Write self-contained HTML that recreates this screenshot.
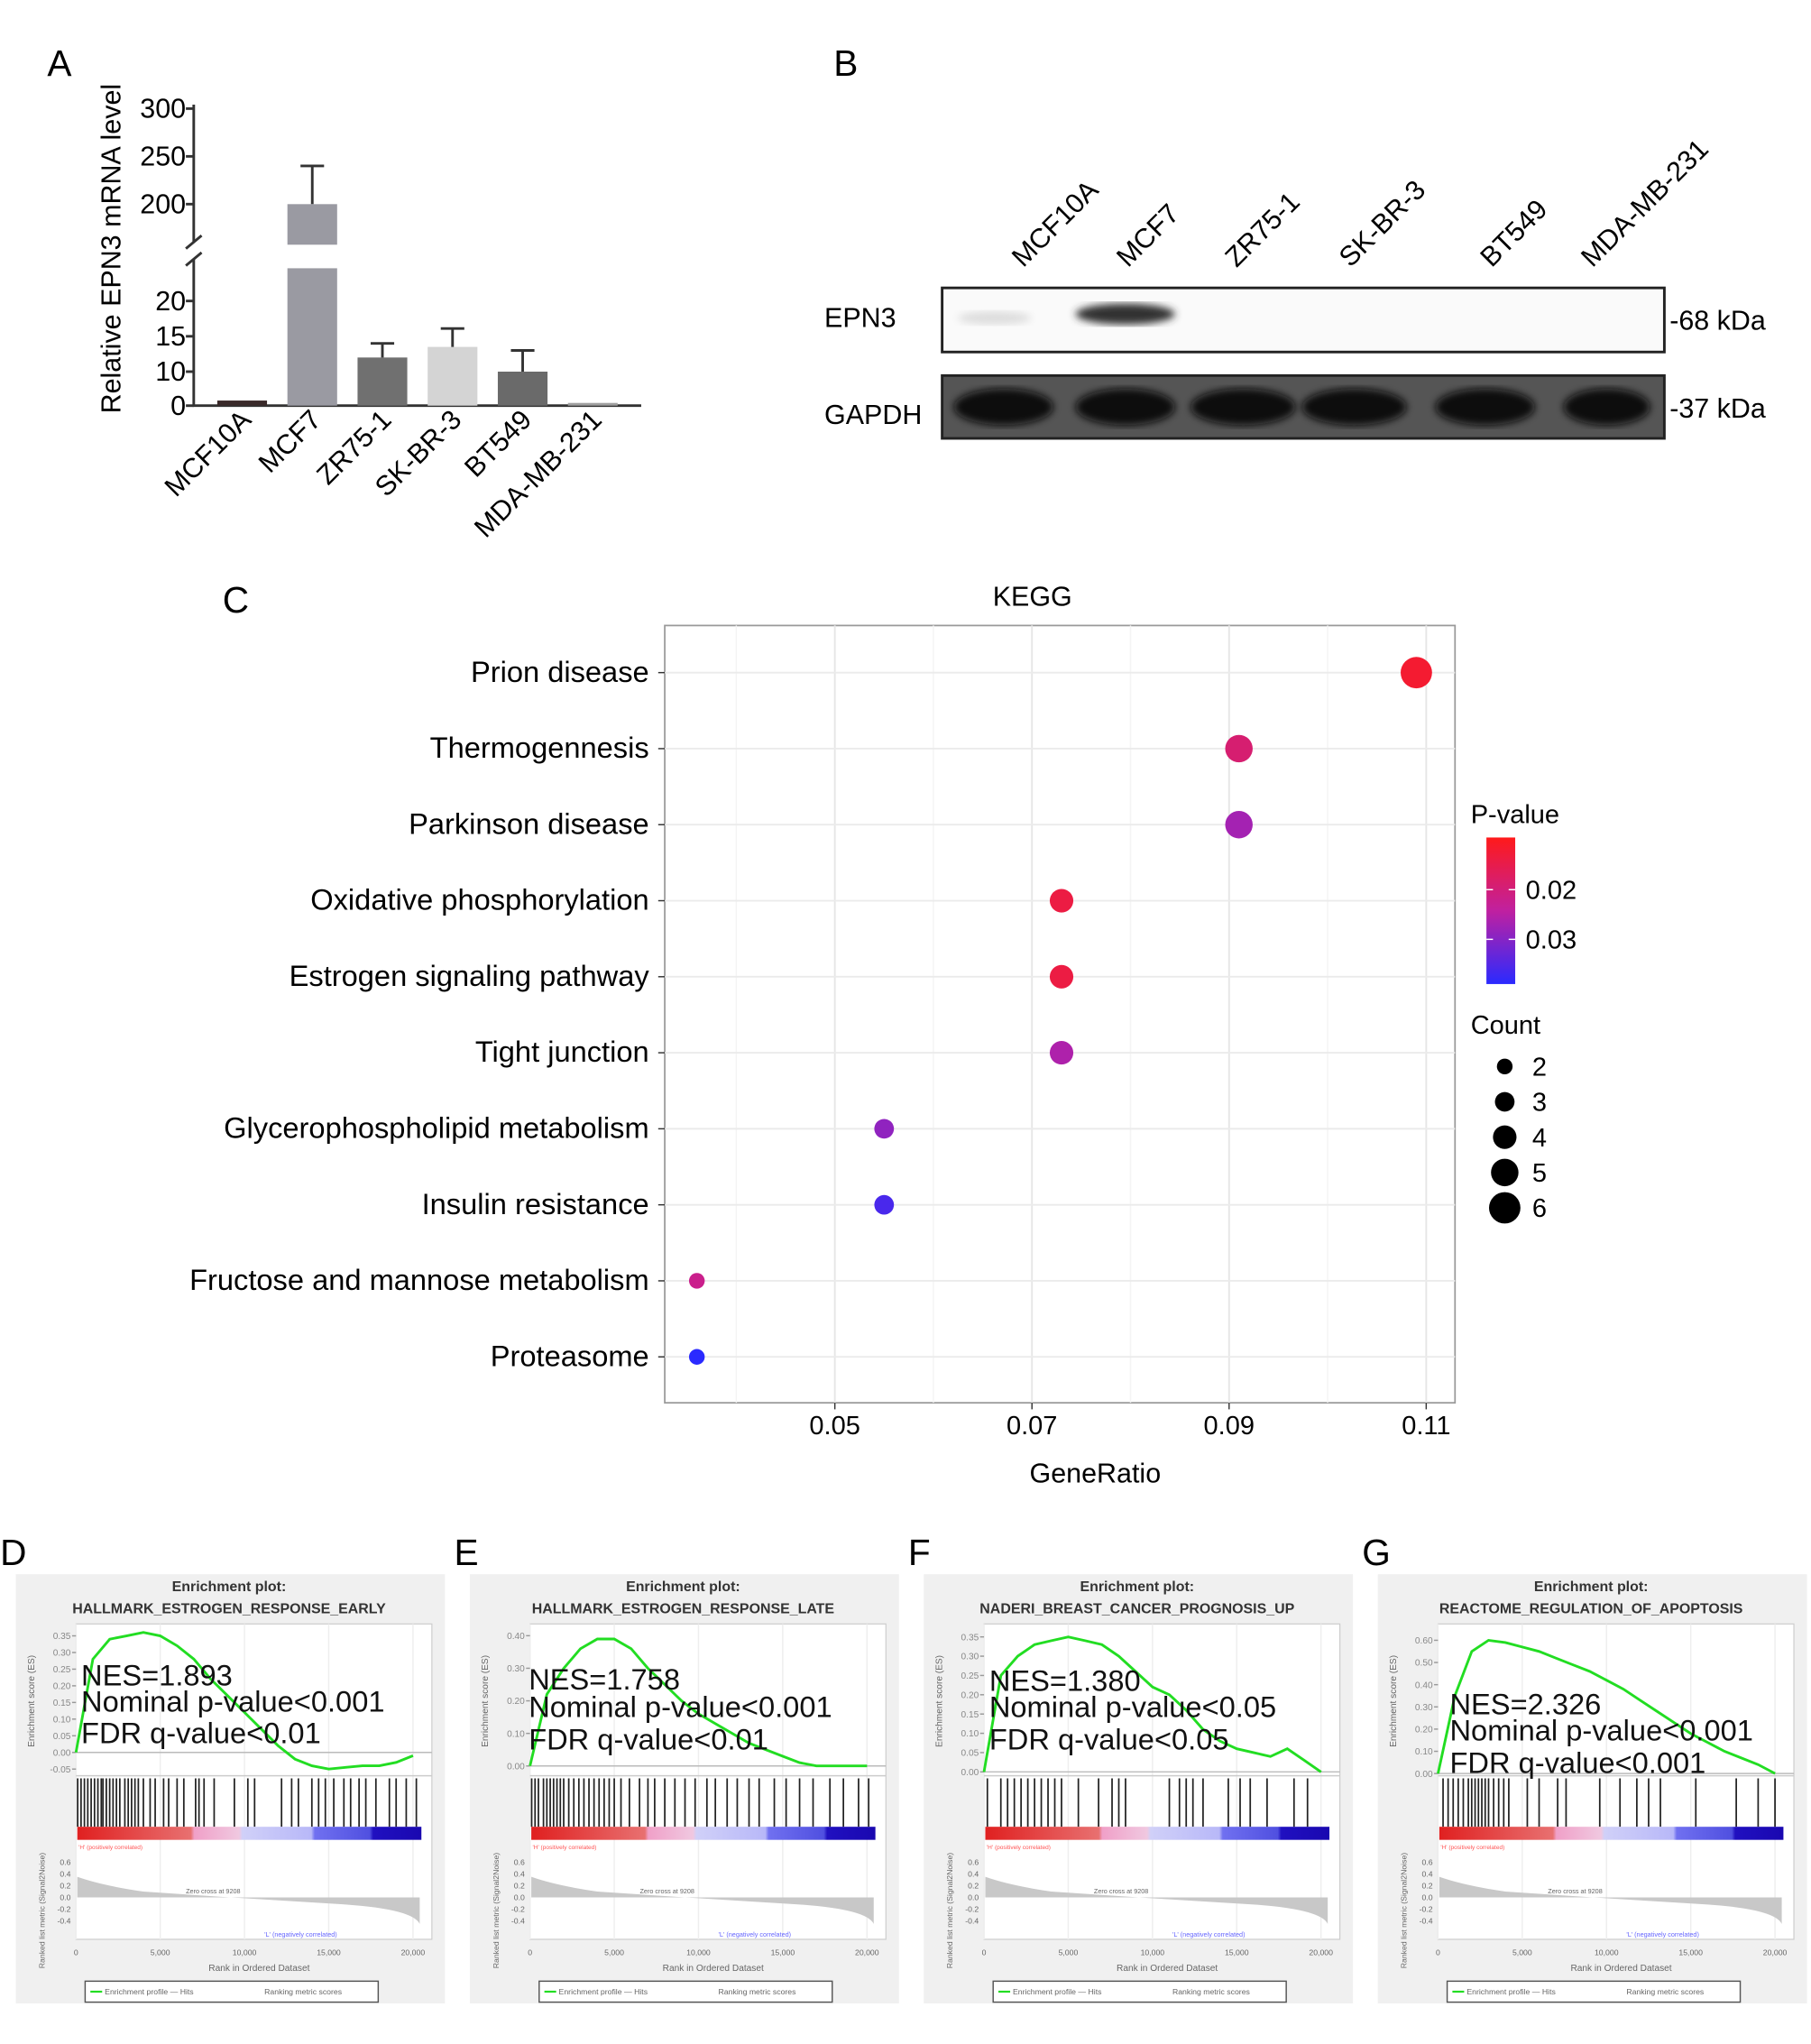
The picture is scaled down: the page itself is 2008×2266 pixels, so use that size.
<!DOCTYPE html>
<html><head><meta charset="utf-8"><style>
html,body{margin:0;padding:0;background:#fff;}
svg{display:block;font-family:"Liberation Sans",Arial,sans-serif;}
</style></head><body>
<svg id="fig" width="2008" height="2266" viewBox="0 0 1384 1562" xmlns="http://www.w3.org/2000/svg">
<defs>
<linearGradient id="pgrad" x1="0" y1="0" x2="0" y2="1">
<stop offset="0" stop-color="#ff1a1a"/><stop offset="0.5" stop-color="#c020a0"/><stop offset="1" stop-color="#2a2aff"/></linearGradient>
<linearGradient id="rankband" x1="0" y1="0" x2="1" y2="0">
<stop offset="0" stop-color="#e02020"/><stop offset="0.33" stop-color="#e87070"/><stop offset="0.34" stop-color="#f0a0c8"/><stop offset="0.47" stop-color="#f0c8e0"/><stop offset="0.48" stop-color="#d0d0f8"/><stop offset="0.68" stop-color="#b8b8f8"/><stop offset="0.69" stop-color="#7070f0"/><stop offset="0.85" stop-color="#5050e0"/><stop offset="0.86" stop-color="#2010c0"/><stop offset="1" stop-color="#1a08b0"/></linearGradient>
<filter id="blur2"><feGaussianBlur stdDeviation="3"/></filter>
</defs>
<g id="panelA"></g><g id="panelB"></g><g id="panelC"></g><g id="panelG"></g>
</svg>
<script>
const NS="http://www.w3.org/2000/svg";
function mk(parent,tag,attrs,text){const e=document.createElementNS(NS,tag);for(const k in attrs)e.setAttribute(k,attrs[k]);if(text!==undefined)e.textContent=text;parent.appendChild(e);return e;}

// ---------- Panel A data ----------
const aCategories=["MCF10A","MCF7","ZR75-1","SK-BR-3","BT549","MDA-MB-231"];
const aValues=[1.5,200,12,13.5,10,0.8];
const aErrors=[0,40,2,2.6,3,0.3];
const aColors=["#3a2a2a","#9a9aa2","#707070","#d4d4d4","#6a6a6a","#a0a0a0"];
const aLowTicks=[0,10,15,20];
const aHighTicks=[200,250,300];

// ---------- Panel C data ----------
const kCategories=["Prion disease","Thermogennesis","Parkinson disease","Oxidative phosphorylation","Estrogen signaling pathway","Tight junction","Glycerophospholipid metabolism","Insulin resistance","Fructose and mannose metabolism","Proteasome"];
const kRatio=[0.109,0.091,0.091,0.073,0.073,0.073,0.055,0.055,0.036,0.036];
const kCount=[6,5,5,4,4,4,3,3,2,2];
const kPvalue=[0.012,0.019,0.027,0.014,0.014,0.026,0.029,0.036,0.022,0.039];
const kXTicks=[0.05,0.07,0.09,0.11];
const kLegendCounts=[2,3,4,5,6];
const kLegendP=[0.02,0.03];

// ---------- GSEA data ----------
const gLetters=["D","E","F","G"];
const gTitles=["HALLMARK_ESTROGEN_RESPONSE_EARLY","HALLMARK_ESTROGEN_RESPONSE_LATE","NADERI_BREAST_CANCER_PROGNOSIS_UP","REACTOME_REGULATION_OF_APOPTOSIS"];
const gNES=["NES=1.893","NES=1.758","NES=1.380","NES=2.326"];
const gP=["Nominal p-value<0.001","Nominal p-value<0.001","Nominal p-value<0.05","Nominal p-value<0.001"];
const gFDR=["FDR q-value<0.01","FDR q-value<0.01","FDR q-value<0.05","FDR q-value<0.001"];
const esD=[0,0.28,0.34,0.35,0.36,0.35,0.32,0.28,0.22,0.17,0.12,0.07,0.02,-0.02,-0.04,-0.05,-0.045,-0.04,-0.04,-0.03,-0.01];
const esE=[0,0.22,0.30,0.36,0.39,0.39,0.36,0.30,0.25,0.20,0.16,0.13,0.10,0.07,0.05,0.03,0.01,0.0,0.0,0.0,0.0];
const esF=[0,0.25,0.30,0.33,0.34,0.35,0.34,0.33,0.30,0.26,0.22,0.20,0.16,0.11,0.08,0.06,0.05,0.04,0.06,0.03,0.0];
const esG=[0,0.35,0.55,0.60,0.59,0.57,0.55,0.52,0.49,0.46,0.42,0.38,0.33,0.28,0.23,0.18,0.14,0.10,0.07,0.04,0.0];
const esTicksD=[-0.05,0,0.05,0.1,0.15,0.2,0.25,0.3,0.35];
const esTicksE=[0,0.1,0.2,0.3,0.4];
const esTicksF=[0,0.05,0.1,0.15,0.2,0.25,0.3,0.35];
const esTicksG=[0,0.1,0.2,0.3,0.4,0.5,0.6];
const hitsD=[0.1,0.3,0.5,0.7,0.9,1.1,1.3,1.5,1.6,1.8,2.0,2.2,2.4,2.6,2.9,3.1,3.3,3.5,3.7,4.0,4.4,4.7,5.2,5.5,6.0,6.4,7.1,7.3,7.6,8.2,9.4,10.2,10.6,12.2,12.8,13.2,14.0,14.4,14.8,15.3,15.9,16.3,16.8,17.2,17.8,18.6,19.0,19.6,20.2];
const hitsE=[0.1,0.3,0.5,0.8,1.0,1.2,1.4,1.6,1.8,2.0,2.3,2.6,2.9,3.2,3.5,3.8,4.1,4.4,4.7,5.0,5.4,5.9,6.5,7.0,7.4,8.0,8.6,9.2,9.8,10.5,11.0,11.7,12.3,13.0,13.6,14.5,15.2,16.0,16.8,17.8,18.6,19.5,20.1];
const hitsF=[0.2,1.0,1.4,1.8,2.2,2.6,3.0,3.4,3.8,4.2,4.6,5.6,6.8,7.6,8.0,8.4,11.0,11.6,12.0,12.4,13.0,14.5,15.2,15.8,16.8,18.4,19.2];
const hitsG=[0.3,0.6,0.9,1.2,1.5,1.8,2.0,2.2,2.4,2.6,2.8,3.0,3.3,3.6,3.9,4.2,5.3,6.0,7.1,7.6,9.6,10.8,11.8,12.5,13.2,15.3,17.7,19.0,20.0];

// ================= Panel A =================
(function(){
const g=document.getElementById('panelA');
const lbl=mk(g,'text',{x:36,y:58,'font-size':28},'A');

const axX=148, y0=310;
const yLow=v=>v<=10?y0-v*2.6:284-(v-10)*5.4;
const yHigh=v=>156-(v-200)*0.73;
const xs=i=>185+i*53.6;
const ax=mk(g,'path',{d:`M${axX},80 L${axX},185 M${axX},198 L${axX},${y0} L490,${y0}`,stroke:'#333','stroke-width':2,fill:'none'});

mk(g,'path',{d:`M${axX-6},190 L${axX+6},180 M${axX-6},203 L${axX+6},193`,stroke:'#333','stroke-width':2});
aLowTicks.forEach(t=>{mk(g,'line',{x1:axX-6,x2:axX,y1:yLow(t),y2:yLow(t),stroke:'#333','stroke-width':2});
 const tx=mk(g,'text',{x:axX-6,y:yLow(t)+7,'font-size':21,'text-anchor':'end'},t);});
aHighTicks.forEach(t=>{mk(g,'line',{x1:axX-6,x2:axX,y1:yHigh(t),y2:yHigh(t),stroke:'#333','stroke-width':2});
 const tx=mk(g,'text',{x:axX-6,y:yHigh(t)+7,'font-size':21,'text-anchor':'end'},t);});
const yt=mk(g,'text',{x:92,y:190,'font-size':21,'text-anchor':'middle',transform:'rotate(-90 92 190)'},'Relative EPN3 mRNA level');

aCategories.forEach((c,i)=>{
 const v=aValues[i], e=aErrors[i], cx=xs(i), w=38;
 if(v>20){
  const b1=mk(g,'rect',{x:cx-w/2,y:205,width:w,height:y0-205,fill:aColors[i]});
  
  mk(g,'rect',{x:cx-w/2,y:yHigh(v),width:w,height:187-yHigh(v),fill:aColors[i]});
  const top=yHigh(v+e);
  mk(g,'path',{d:`M${cx},${yHigh(v)} L${cx},${top} M${cx-9},${top} L${cx+9},${top}`,stroke:'#333','stroke-width':2});
 } else {
  const b=mk(g,'rect',{x:cx-w/2,y:yLow(v),width:w,height:y0-yLow(v),fill:aColors[i]});
  
  if(e>0.5){const top=yLow(v+e);mk(g,'path',{d:`M${cx},${yLow(v)} L${cx},${top} M${cx-9},${top} L${cx+9},${top}`,stroke:'#333','stroke-width':2});}
 }
 const t=mk(g,'text',{x:cx+8,y:322,'font-size':21,'text-anchor':'end',transform:`rotate(-45 ${cx+8} 322)`},c);
 
});
})();

// ================= Panel B =================
(function(){
const g=document.getElementById('panelB');
const l=mk(g,'text',{x:637,y:58,'font-size':28},'B');
const lanes=["MCF10A","MCF7","ZR75-1","SK-BR-3","BT549","MDA-MB-231"];
const lx=[782,862,945,1032,1140,1217];
lanes.forEach((n,i)=>{const t=mk(g,'text',{x:lx[i],y:205,'font-size':21,transform:`rotate(-45 ${lx[i]} 205)`},n);});
const b1=mk(g,'rect',{x:720,y:220,width:552,height:49,fill:'#fafafa',stroke:'#222','stroke-width':2});

mk(g,'ellipse',{cx:860,cy:240,rx:38,ry:8,fill:'#333',filter:'url(#blur2)'});
mk(g,'ellipse',{cx:760,cy:243,rx:28,ry:5,fill:'#ddd',filter:'url(#blur2)'});
const b2=mk(g,'rect',{x:720,y:287,width:552,height:48,fill:'#555',stroke:'#222','stroke-width':2});

const gx=[767,860,950,1035,1135,1228],gr=[38,38,40,40,38,33];
gx.forEach((x,i)=>mk(g,'ellipse',{cx:x,cy:311,rx:gr[i],ry:14,fill:'#080808',filter:'url(#blur2)'}));
[["EPN3",250,630],["GAPDH",324,630]].forEach(a=>{const t=mk(g,'text',{x:a[2],y:a[1],'font-size':21},a[0]);});
[["-68 kDa",252],["-37 kDa",319]].forEach(a=>{const t=mk(g,'text',{x:1276,y:a[1],'font-size':21},a[0]);});
})();

// ================= Panel C =================
(function(){
const g=document.getElementById('panelC');
const l=mk(g,'text',{x:170,y:468,'font-size':28},'C');
const t=mk(g,'text',{x:789,y:463,'font-size':21,'text-anchor':'middle'},'KEGG');
const L=508,R=1112,T=478,B=1072;
const xS=v=>638+(v-0.05)*7533;
const yS=i=>514+i*58.1;
const bg=mk(g,'rect',{x:L,y:T,width:R-L,height:B-T,fill:'#fff',stroke:'#999','stroke-width':1.2});

for(let v=0.04;v<=0.111;v+=0.01){mk(g,'line',{x1:xS(v),x2:xS(v),y1:T,y2:B,stroke:(Math.round(v*100)%2?'#ebebeb':'#f4f4f4'),'stroke-width':1});}
kXTicks.forEach(v=>{mk(g,'line',{x1:xS(v),x2:xS(v),y1:T,y2:B,stroke:'#e6e6e6','stroke-width':1.3});
 mk(g,'line',{x1:xS(v),x2:xS(v),y1:B,y2:B+5,stroke:'#333'});
 const tx=mk(g,'text',{x:xS(v),y:B+24,'font-size':20,'text-anchor':'middle'},v.toFixed(2));});
const xt=mk(g,'text',{x:837,y:1133,'font-size':21,'text-anchor':'middle'},'GeneRatio');
const pCol=p=>{const f=Math.max(0,Math.min(1,(p-0.0095)/0.0295));
 const stops=[[255,26,26],[192,32,160],[42,42,255]];
 const s=f<0.5?0:1,ff=f<0.5?f*2:(f-0.5)*2;const a=stops[s],b=stops[s+1];
 return `rgb(${a.map((c,k)=>Math.round(c+(b[k]-c)*ff)).join(',')})`;};
const rS=c=>3+c*1.5;
kCategories.forEach((c,i)=>{
 mk(g,'line',{x1:L,x2:R,y1:yS(i),y2:yS(i),stroke:'#ebebeb','stroke-width':1.3});
 mk(g,'line',{x1:L-5,x2:L,y1:yS(i),y2:yS(i),stroke:'#333'});
 const tx=mk(g,'text',{x:496,y:yS(i)+7,'font-size':22.5,'text-anchor':'end'},c);
});
kCategories.forEach((c,i)=>{
 const d=mk(g,'circle',{cx:xS(kRatio[i]),cy:yS(i),r:rS(kCount[i]),fill:pCol(kPvalue[i])});
 
});
const lt=mk(g,'text',{x:1124,y:629,'font-size':20},'P-value');
const cb=mk(g,'rect',{x:1136,y:640,width:22,height:112,fill:'url(#pgrad)'});
const pY=p=>640+(p-0.0095)/0.0295*112;
kLegendP.forEach(p=>{mk(g,'line',{x1:1136,x2:1141,y1:pY(p),y2:pY(p),stroke:'#fff'});mk(g,'line',{x1:1153,x2:1158,y1:pY(p),y2:pY(p),stroke:'#fff'});
 const tx=mk(g,'text',{x:1166,y:pY(p)+7,'font-size':20},p.toFixed(2));});
const ct=mk(g,'text',{x:1124,y:790,'font-size':20},'Count');
kLegendCounts.forEach((c,i)=>{const y=815+i*27;
 const d=mk(g,'circle',{cx:1150,cy:y,r:rS(c),fill:'#000'});
 const tx=mk(g,'text',{x:1171,y:y+7,'font-size':20},c);});
})();

// ================= GSEA panels =================
(function(){
const g=document.getElementById('panelG');
const esAll=[esD,esE,esF,esG],tickAll=[esTicksD,esTicksE,esTicksF,esTicksG],hitsAll=[hitsD,hitsE,hitsF,hitsG];
const ranges=[[-0.07,0.37],[-0.03,0.42],[-0.01,0.37],[-0.01,0.65]];
const textY=[[1288,1308,1332],[1291,1312,1337],[1292,1312,1337],[1310,1330,1355]];
const textX=[62,404,756,1108];
const offs=[12,359,706,1053];
gLetters.forEach((L,k)=>{
 const ox=offs[k];
 const p=mk(g,'g',{});
 const lt=mk(p,'text',{x:ox-12,y:1196,'font-size':28},L);
 mk(p,'rect',{x:ox,y:1203,width:328,height:328,fill:'#f0f0f0'});
 const t1=mk(p,'text',{x:ox+163,y:1216,'font-size':11,'font-weight':'bold','text-anchor':'middle',fill:'#333'},'Enrichment plot:');
 const t2=mk(p,'text',{x:ox+163,y:1233,'font-size':11,'font-weight':'bold','text-anchor':'middle',fill:'#333'},gTitles[k]);
 const pl=ox+46,pr=ox+318,eT=1241,eB=1357;
 mk(p,'rect',{x:pl,y:eT,width:pr-pl,height:1482-eT,fill:'#fff',stroke:'#ccc','stroke-width':0.8});
 const xR=r=>pl+r/20500*(pr-pl-8);
 [0,5,10,15,20].forEach(r=>{mk(p,'line',{x1:xR(r*1000),x2:xR(r*1000),y1:eT,y2:1482,stroke:'#eee'});
  const tx=mk(p,'text',{x:xR(r*1000),y:1494,'font-size':6,'text-anchor':'middle',fill:'#666'},r===0?'0':(r*1000).toLocaleString('en-US'));});
 const [mn,mx]=ranges[k];
 const yE=v=>eB-(v-mn)/(mx-mn)*(eB-eT-4);
 tickAll[k].forEach(v=>{mk(p,'line',{x1:pl-3,x2:pl,y1:yE(v),y2:yE(v),stroke:'#999'});
  const tx=mk(p,'text',{x:pl-4,y:yE(v)+2.5,'font-size':7,'text-anchor':'end',fill:'#888'},v.toFixed(2));});
 mk(p,'line',{x1:pl,x2:pr,y1:yE(0),y2:yE(0),stroke:'#bbb'});
 const ya=mk(p,'text',{x:ox+14,y:1300,'font-size':7,'text-anchor':'middle',fill:'#666',transform:`rotate(-90 ${ox+14} 1300)`},'Enrichment score (ES)');
 const es=esAll[k];
 const d=es.map((v,i)=>(i?'L':'M')+xR(Math.min(i*1000,20400)).toFixed(1)+','+yE(v).toFixed(1)).join(' ');
 const line=mk(p,'path',{d:d,fill:'none',stroke:'#22dd22','stroke-width':2});
 mk(p,'line',{x1:pl,x2:pr,y1:eB,y2:eB,stroke:'#ccc'});
 hitsAll[k].forEach(h=>{const hl=mk(p,'line',{x1:xR(h*1000),x2:xR(h*1000),y1:eB+2,y2:1396,stroke:'#222','stroke-width':1.2});});
 const band=mk(p,'rect',{x:pl+1,y:1396,width:xR(20500)-pl-1,height:10,fill:'url(#rankband)'});
 mk(p,'text',{x:pl+2,y:1413,'font-size':4.5,fill:'#f55'},"'H' (positively correlated)");
 const z=1450,yr=v=>z-v*45;
 mk(p,'path',{d:`M${pl+1},${yr(0.35)} Q${pl+20},${yr(0.2)} ${xR(4000)},${yr(0.1)} L${xR(9200)},${z} L${xR(16000)},${yr(-0.12)} Q${xR(20000)},${yr(-0.2)} ${xR(20400)},${yr(-0.45)} L${xR(20400)},${z} L${pl+1},${z} Z`,fill:'#c8c8c8'});
 [0.6,0.4,0.2,0,-0.2,-0.4].forEach(v=>mk(p,'text',{x:pl-4,y:yr(v)+2,'font-size':6,'text-anchor':'end',fill:'#666'},v.toFixed(1)));
 mk(p,'text',{x:ox+130,y:1447,'font-size':5,fill:'#666'},'Zero cross at 9208');
 mk(p,'text',{x:ox+190,y:1480,'font-size':5,fill:'#66f'},"'L' (negatively correlated)");
 mk(p,'text',{x:ox+22,y:1460,'font-size':6,'text-anchor':'middle',fill:'#666',transform:`rotate(-90 ${ox+22} 1460)`},'Ranked list metric (Signal2Noise)');
 const xa=mk(p,'text',{x:ox+186,y:1506,'font-size':7,'text-anchor':'middle',fill:'#666'},'Rank in Ordered Dataset');
 const lg=mk(p,'rect',{x:ox+53,y:1514,width:224,height:16,fill:'#fff',stroke:'#555'});
 mk(p,'line',{x1:ox+57,x2:ox+66,y1:1522,y2:1522,stroke:'#2d2','stroke-width':1.5});
 mk(p,'text',{x:ox+68,y:1524,'font-size':6,fill:'#666'},'Enrichment profile — Hits');
 mk(p,'text',{x:ox+190,y:1524,'font-size':6,fill:'#666'},'Ranking metric scores');
 [gNES[k],gP[k],gFDR[k]].forEach((s,j)=>{const tx=mk(p,'text',{x:textX[k],y:textY[k][j],'font-size':22.5,fill:'#111'},s);});
});
})();
</script>
</body></html>
